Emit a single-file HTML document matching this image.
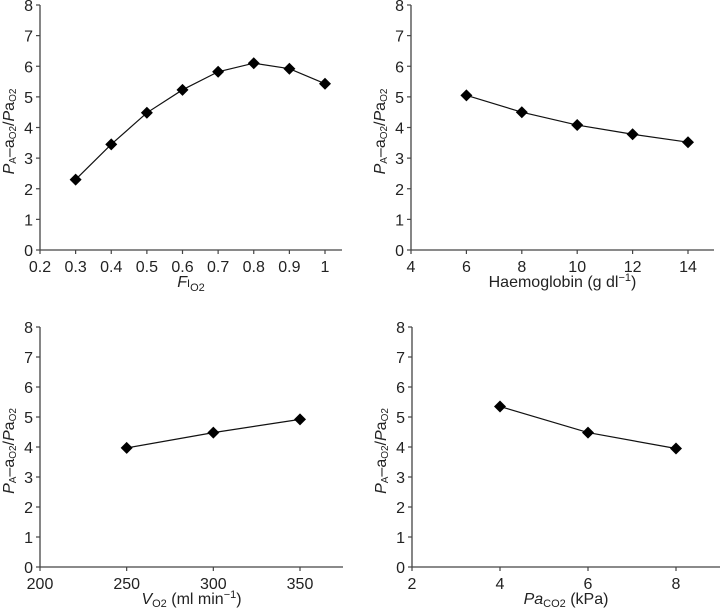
<!DOCTYPE html>
<html><head><meta charset="utf-8"><style>
body{margin:0;background:#fff;}
svg{display:block;font-family:"Liberation Sans",Arial,sans-serif;}
</style></head><body>
<svg id="c" width="720" height="610" viewBox="0 0 720 610"></svg>
<script>
const fioX=[0.3,0.4,0.5,0.6,0.7,0.8,0.9,1.0];
const fioY=[2.3,3.45,4.48,5.23,5.82,6.1,5.92,5.43];
const fioTicks=["0.2","0.3","0.4","0.5","0.6","0.7","0.8","0.9","1"];
const hbX=[6,8,10,12,14];
const hbY=[5.05,4.5,4.08,3.78,3.52];
const hbTicks=["4","6","8","10","12","14"];
const vo2X=[250,300,350];
const vo2Y=[3.97,4.48,4.92];
const vo2Ticks=["200","250","300","350"];
const pcoX=[4,6,8];
const pcoY=[5.35,4.48,3.95];
const pcoTicks=["2","4","6","8"];
const yTicks=[0,1,2,3,4,5,6,7,8];

const NS="http://www.w3.org/2000/svg";
const svg=document.getElementById('c');
function el(t,a,p){const e=document.createElementNS(NS,t);for(const k in a)e.setAttribute(k,a[k]);(p||svg).appendChild(e);return e;}

function panel(name,o,xs,ys,ticks,xlabelHTML){
  const g=el('g',{});
  
  
  const sx=v=>o.x0+(v-o.xmin)/(o.xmax-o.xmin)*(o.x1-o.x0);
  const sy=v=>o.y0-(v/8)*(o.y0-o.y8);
  const ya=el('line',{x1:o.x0,y1:o.y8,x2:o.x0,y2:o.y0,stroke:'#444','stroke-width':1.3},g);
  
  const xa=el('line',{x1:o.x0,y1:o.y0,x2:o.xend,y2:o.y0,stroke:'#444','stroke-width':1.3},g);
  
  yTicks.forEach(t=>{
    el('line',{x1:o.x0-4,y1:sy(t),x2:o.x0,y2:sy(t),stroke:'#444','stroke-width':1.2},g);
    const tx=el('text',{x:o.x0-7,y:sy(t)+6,'text-anchor':'end','font-size':16,fill:'#222'},g);
    tx.textContent=t;
    
  });
  ticks.forEach(t=>{
    const v=parseFloat(t);
    el('line',{x1:sx(v),y1:o.y0,x2:sx(v),y2:o.y0+4,stroke:'#444','stroke-width':1.2},g);
    const tx=el('text',{x:sx(v),y:o.y0+22,'text-anchor':'middle','font-size':16,fill:'#222'},g);
    tx.textContent=t;
    
  });
  const pl=el('polyline',{points:xs.map((x,i)=>sx(x)+','+sy(ys[i])).join(' '),fill:'none',stroke:'#111','stroke-width':1.2},g);
  
  xs.forEach((x,i)=>{
    const cx=sx(x),cy=sy(ys[i]);
    const m=el('polygon',{points:`${cx},${cy-6} ${cx+6},${cy} ${cx},${cy+6} ${cx-6},${cy}`,fill:'#000'},g);
    
  });
  const yl=el('text',{transform:`translate(${o.x0-26},${(o.y0+o.y8)/2+4}) rotate(-90)`,'text-anchor':'middle','font-size':16,fill:'#222'},g);
  yl.innerHTML='<tspan font-style="italic">P</tspan><tspan font-size="10" dy="2">A</tspan><tspan dy="-2">–a</tspan><tspan font-size="10" dy="2">O2</tspan><tspan dy="-2">/</tspan><tspan font-style="italic">P</tspan><tspan>a</tspan><tspan font-size="10" dy="2">O2</tspan>';
  
  const xl=el('text',{x:(o.x0+o.xend)/2,y:o.y0+37,'text-anchor':'middle','font-size':16,fill:'#222'},g);
  xl.innerHTML=xlabelHTML;
  
}
panel('panel-fio2',{x0:40,x1:325,xmin:0.2,xmax:1.0,xend:342,y0:250,y8:5},fioX,fioY,fioTicks,
 '<tspan font-style="italic">F</tspan><tspan font-size="11">I</tspan><tspan font-size="11" dy="4">O2</tspan>');
panel('panel-haemoglobin',{x0:411,x1:688,xmin:4,xmax:14,xend:714,y0:250,y8:5},hbX,hbY,hbTicks,
 'Haemoglobin (g dl<tspan font-size="11" dy="-6">−1</tspan><tspan dy="6">)</tspan>');
panel('panel-vo2',{x0:40,x1:300,xmin:200,xmax:350,xend:343,y0:567,y8:327},vo2X,vo2Y,vo2Ticks,
 '<tspan font-style="italic">V</tspan><tspan font-size="11" dy="3">O2</tspan><tspan dy="-3"> (ml min</tspan><tspan font-size="11" dy="-6">−1</tspan><tspan dy="6">)</tspan>');
panel('panel-paco2',{x0:412,x1:676,xmin:2,xmax:8,xend:720,y0:567,y8:327},pcoX,pcoY,pcoTicks,
 '<tspan font-style="italic">Pa</tspan><tspan font-size="11" dy="3">CO2</tspan><tspan dy="-3"> (kPa)</tspan>');
</script>
</body></html>
